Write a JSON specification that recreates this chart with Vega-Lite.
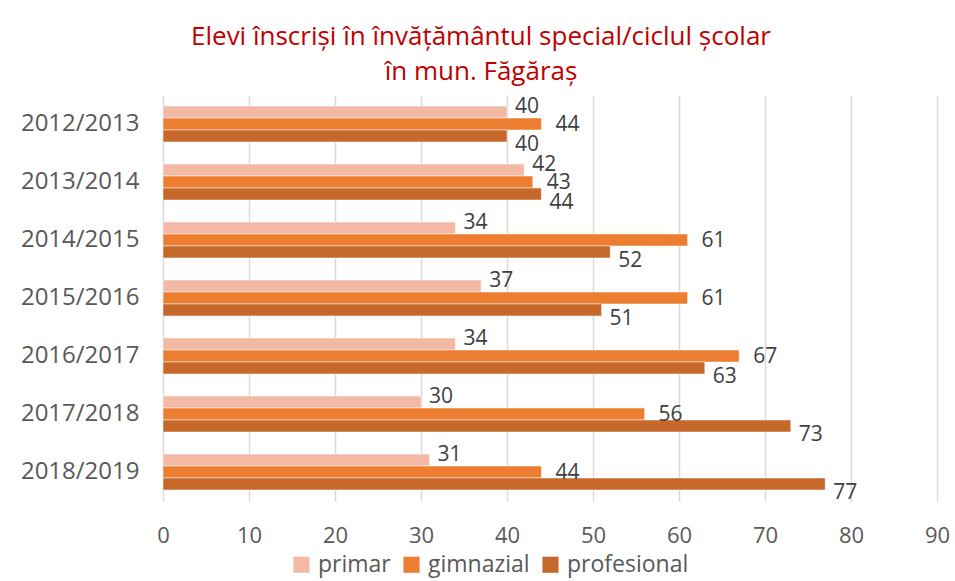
{
  "$schema": "https://vega.github.io/schema/vega-lite/v6.json",
  "autosize": "none",
  "width": 774,
  "height": 406,
  "padding": {"left": 163, "top": 95, "right": 18, "bottom": 80},
  "background": "white",
  "title": {
    "text": ["Elevi înscriși în învățământul special/ciclul școlar", "în mun. Făgăraș"],
    "font": "Open Sans",
    "fontSize": 26,
    "fontWeight": "normal",
    "color": "#C00000",
    "anchor": "middle",
    "dx": -69,
    "offset": 10,
    "lineHeight": 35
  },
  "config": {
    "view": {"stroke": null},
    "font": "Open Sans"
  },
  "data": {
    "values": [
      {"an": "2012/2013", "ciclu": "primar", "v": 40},
      {"an": "2012/2013", "ciclu": "gimnazial", "v": 44},
      {"an": "2012/2013", "ciclu": "profesional", "v": 40},
      {"an": "2013/2014", "ciclu": "primar", "v": 42},
      {"an": "2013/2014", "ciclu": "gimnazial", "v": 43},
      {"an": "2013/2014", "ciclu": "profesional", "v": 44},
      {"an": "2014/2015", "ciclu": "primar", "v": 34},
      {"an": "2014/2015", "ciclu": "gimnazial", "v": 61},
      {"an": "2014/2015", "ciclu": "profesional", "v": 52},
      {"an": "2015/2016", "ciclu": "primar", "v": 37},
      {"an": "2015/2016", "ciclu": "gimnazial", "v": 61},
      {"an": "2015/2016", "ciclu": "profesional", "v": 51},
      {"an": "2016/2017", "ciclu": "primar", "v": 34},
      {"an": "2016/2017", "ciclu": "gimnazial", "v": 67},
      {"an": "2016/2017", "ciclu": "profesional", "v": 63},
      {"an": "2017/2018", "ciclu": "primar", "v": 30},
      {"an": "2017/2018", "ciclu": "gimnazial", "v": 56},
      {"an": "2017/2018", "ciclu": "profesional", "v": 73},
      {"an": "2018/2019", "ciclu": "primar", "v": 31},
      {"an": "2018/2019", "ciclu": "gimnazial", "v": 44},
      {"an": "2018/2019", "ciclu": "profesional", "v": 77}
    ]
  },
  "encoding": {
    "y": {
      "field": "an",
      "type": "nominal",
      "title": null,
      "scale": {"paddingInner": 0.38, "paddingOuter": 0.19},
      "axis": {
        "domain": false,
        "ticks": false,
        "labelFont": "Open Sans",
        "labelFontSize": 24,
        "labelColor": "#595959",
        "labelPadding": 24
      }
    },
    "yOffset": {
      "field": "ciclu",
      "type": "nominal",
      "sort": ["primar", "gimnazial", "profesional"],
      "scale": {"paddingInner": 0, "paddingOuter": 0}
    },
    "x": {
      "field": "v",
      "type": "quantitative",
      "title": null,
      "scale": {"domain": [0, 90], "nice": false},
      "axis": {
        "values": [0, 10, 20, 30, 40, 50, 60, 70, 80, 90],
        "domain": false,
        "ticks": false,
        "grid": true,
        "gridColor": "#D9D9D9",
        "gridWidth": 1.5,
        "labelFont": "Open Sans",
        "labelFontSize": 22,
        "labelColor": "#595959",
        "labelPadding": 24,
        "labelFlush": false
      }
    }
  },
  "layer": [
    {
      "mark": {"type": "bar", "stroke": "white", "strokeWidth": 0.5},
      "encoding": {
        "color": {
          "field": "ciclu",
          "type": "nominal",
          "sort": ["primar", "gimnazial", "profesional"],
          "scale": {"domain": ["primar", "gimnazial", "profesional"], "range": ["#F4B9A4", "#ED7D31", "#C5682A"]},
          "legend": {
            "title": null,
            "orient": "none",
            "direction": "horizontal",
            "legendX": 127,
            "legendY": 458,
            "symbolType": "square",
            "symbolSize": 260,
            "symbolStrokeWidth": 0,
            "labelFont": "Open Sans",
            "labelFontSize": 23,
            "labelColor": "#595959",
            "labelOffset": 5,
            "columnPadding": 9
          }
        }
      }
    },
    {
      "transform": [{"filter": "datum.ciclu === 'primar'"}],
      "mark": {"type": "text", "align": "left", "baseline": "middle", "dx": 8, "dy": -5, "fontSize": 21, "font": "Open Sans", "color": "#404040"},
      "encoding": {"text": {"field": "v", "type": "quantitative"}}
    },
    {
      "transform": [{"filter": "datum.ciclu === 'gimnazial'"}],
      "mark": {"type": "text", "align": "left", "baseline": "middle", "dx": 14, "dy": 1, "fontSize": 21, "font": "Open Sans", "color": "#404040"},
      "encoding": {"text": {"field": "v", "type": "quantitative"}}
    },
    {
      "transform": [{"filter": "datum.ciclu === 'profesional'"}],
      "mark": {"type": "text", "align": "left", "baseline": "middle", "dx": 8, "dy": 9, "fontSize": 21, "font": "Open Sans", "color": "#404040"},
      "encoding": {"text": {"field": "v", "type": "quantitative"}}
    }
  ]
}
